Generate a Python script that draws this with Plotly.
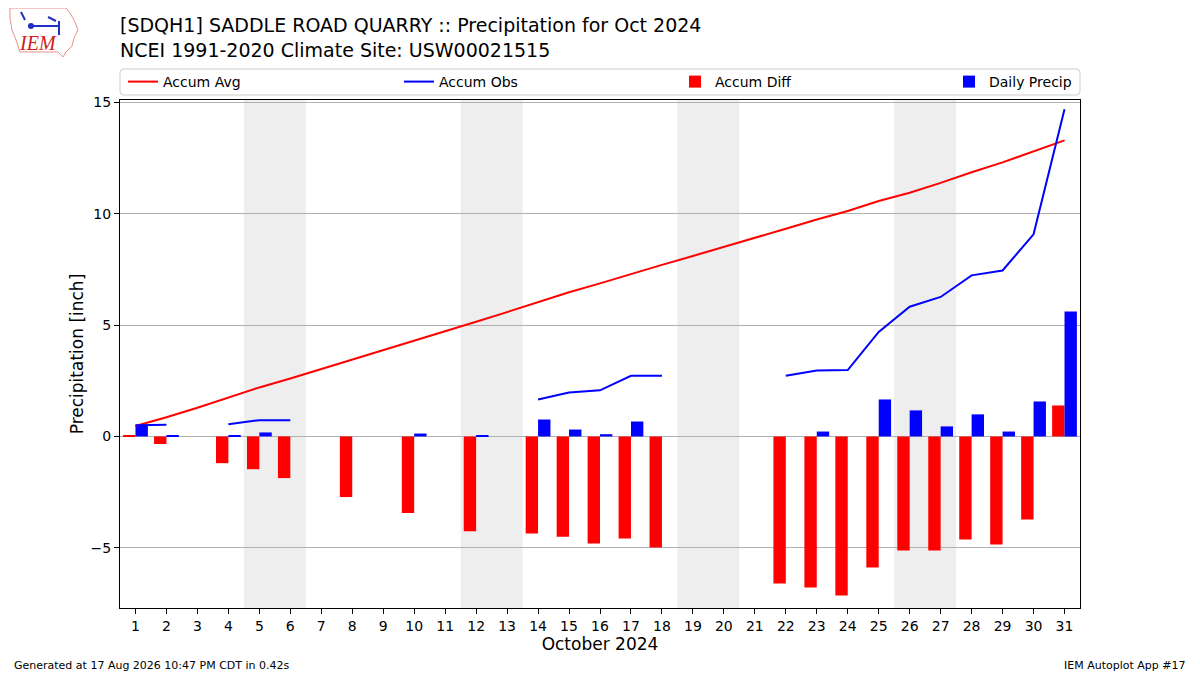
import pandas as pd
import plotly.graph_objects as go

# Daily data for October 2024 (inches), None = missing report
days = list(range(1, 32))
accum_avg = [0.47, 0.86, 1.29, 1.75, 2.20, 2.60, 3.02, 3.45, 3.87, 4.30,
             4.72, 5.15, 5.58, 6.02, 6.47, 6.87, 7.30, 7.70, 8.10, 8.50,
             8.91, 9.32, 9.74, 10.12, 10.57, 10.94, 11.38, 11.86, 12.30, 12.80,
             13.29]
accum_obs = [0.50, 0.52, None, 0.55, 0.73, 0.73, None, 0.73, None, 0.86,
             None, 0.90, None, 1.66, 1.97, 2.07, 2.72, 2.72, None, None,
             None, 2.72, 2.96, 2.98, 4.69, 5.82, 6.26, 7.23, 7.45, 9.07,
             14.68]
daily_precip = [0.50, 0.03, None, 0.03, 0.18, 0.00, None, 0.00, None, 0.13,
                None, 0.04, None, 0.76, 0.31, 0.10, 0.67, 0.00, None, None,
                None, 0.00, 0.22, 0.00, 1.66, 1.17, 0.45, 0.99, 0.22, 1.57,
                5.61]

# Accumulated departure = observed - average
accum_diff = [None if o is None else round(o - a, 2) for o, a in zip(accum_obs, accum_avg)]

# Weekends (Saturday start) for the grey background bands
dates = pd.date_range("2024-10-01", "2024-10-31")
saturdays = [d.day for d in dates if d.dayofweek == 5]

FONT = "DejaVu Sans"
# page body has an 8px margin, so the figure is drawn 8px smaller and offset
W, H = 1192, 667


# helper: screen pixel -> paper coordinates (plot area 120..1080 x 100..608 on screen)
def px(x, y):
    return (x - 120) / 960, (608 - y) / 508


fig = go.Figure()

fig.add_trace(go.Scatter(x=days, y=accum_avg, mode="lines", name="Accum Avg",
                         line=dict(color="red", width=2), legend="legend"))
fig.add_trace(go.Scatter(x=days, y=accum_obs, mode="lines", name="Accum Obs",
                         line=dict(color="blue", width=2), connectgaps=False,
                         legend="legend2"))
fig.add_trace(go.Bar(x=days, y=accum_diff, name="Accum Diff", marker_color="red",
                     marker_line_width=0, width=0.4, offset=-0.4, legend="legend3"))
fig.add_trace(go.Bar(x=days, y=daily_precip, name="Daily Precip", marker_color="blue",
                     marker_line_width=0, width=0.4, offset=0, legend="legend4"))

# Weekend shading
for d in saturdays:
    fig.add_vrect(x0=d - 0.5, x1=min(d + 1.5, 31.5), fillcolor="#eeeeee",
                  line_width=0, layer="below")

# legend frame (rounded box spanning the plot width)
bx0, by0 = px(120, 95)
bx1, by1 = px(1080, 69)
rx, ry = 4 / 960, 4 / 508
frame = ("M %f,%f L %f,%f Q %f,%f %f,%f L %f,%f Q %f,%f %f,%f L %f,%f Q %f,%f %f,%f "
         "L %f,%f Q %f,%f %f,%f Z") % (
    bx0 + rx, by0, bx1 - rx, by0, bx1, by0, bx1, by0 + ry,
    bx1, by1 - ry, bx1, by1, bx1 - rx, by1,
    bx0 + rx, by1, bx0, by1, bx0, by1 - ry,
    bx0, by0 + ry, bx0, by0, bx0 + rx, by0)
fig.add_shape(type="path", path=frame, xref="paper", yref="paper",
              line=dict(color="#cccccc", width=1), fillcolor="white", layer="above")

# IEM logo (rough sketch)
outline = [(10, 8), (66, 8), (70, 13), (74, 20), (78, 30), (74, 38), (72, 46),
           (66, 52), (63, 57), (58, 52), (20, 52), (16, 40), (12, 30), (10, 18)]
path = "M " + " L ".join("%.4f,%.4f" % px(a, b) for a, b in outline) + " Z"
fig.add_shape(type="path", path=path, xref="paper", yref="paper",
              line=dict(color="#e89090", width=1))
for (a0, b0, a1, b1) in [(28, 26, 60, 26), (59, 21, 59, 35), (21, 12, 25, 20),
                         (48, 17, 56, 21)]:
    x0, y0 = px(a0, b0)
    x1, y1 = px(a1, b1)
    fig.add_shape(type="line", x0=x0, y0=y0, x1=x1, y1=y1, xref="paper", yref="paper",
                  line=dict(color="#2030c0", width=2))
cx, cy = px(31, 26)
fig.add_shape(type="circle", x0=cx - 3 / 960, x1=cx + 3 / 960, y0=cy - 3 / 508,
              y1=cy + 3 / 508, xref="paper", yref="paper", fillcolor="#2030c0",
              line_width=0)
lx, ly = px(38, 43)
fig.add_annotation(x=lx, y=ly, xref="paper", yref="paper", text="<i>IEM</i>",
                   showarrow=False, xanchor="center", yanchor="middle",
                   font=dict(family="Liberation Serif", size=20, color="#d02020"))

# Footer
fx, fy = px(12, 665)
fig.add_annotation(x=fx, y=fy, xref="paper", yref="paper", xanchor="left", yanchor="middle",
                   text="Generated at 17 Aug 2026 10:47 PM CDT in 0.42s", showarrow=False,
                   font=dict(family=FONT, size=11, color="black"))
fx, fy = px(1188, 665)
fig.add_annotation(x=fx, y=fy, xref="paper", yref="paper", xanchor="right", yanchor="middle",
                   text="IEM Autoplot App #17", showarrow=False,
                   font=dict(family=FONT, size=11, color="black"))

legend_style = dict(orientation="h", xanchor="left", yanchor="middle",
                    bgcolor="rgba(0,0,0,0)", borderwidth=0, font=dict(size=14),
                    itemwidth=30)
lg_y = px(0, 82)[1]

fig.update_layout(
    width=W, height=H,
    margin=dict(l=112, r=120, t=92, b=67),
    paper_bgcolor="white", plot_bgcolor="white",
    font=dict(family=FONT, size=14, color="black"),
    barmode="overlay",
    title=dict(text="[SDQH1] SADDLE ROAD QUARRY :: Precipitation for Oct 2024<br>"
                    "NCEI 1991-2020 Climate Site: USW00021515",
               x=(120 - 8) / W, xanchor="left", y=1 - (32 - 8) / H, yanchor="middle",
               font=dict(family=FONT, size=19)),
    legend=dict(x=px(123, 0)[0], y=lg_y, **legend_style),
    legend2=dict(x=px(399, 0)[0], y=lg_y, **legend_style),
    legend3=dict(x=px(675, 0)[0], y=lg_y, **legend_style),
    legend4=dict(x=px(949, 0)[0], y=lg_y, **legend_style),
    showlegend=True,
)

fig.update_xaxes(range=[0.5, 31.5], tickmode="array", tickvals=days,
                 ticktext=[str(d) for d in days], tickfont=dict(size=14),
                 title=dict(text="October 2024", font=dict(size=17), standoff=5),
                 showline=True, linecolor="black", linewidth=1, mirror=True,
                 ticks="outside", ticklen=5, tickcolor="black", showgrid=False,
                 zeroline=False)
fig.update_yaxes(range=[-7.7, 15.1], tickvals=[-5, 0, 5, 10, 15], tickfont=dict(size=14),
                 title=dict(text="Precipitation [inch]", font=dict(size=17), standoff=2),
                 showline=True, linecolor="black", linewidth=1, mirror=True,
                 ticks="outside", ticklen=5, tickcolor="black",
                 showgrid=True, gridcolor="#b0b0b0", gridwidth=1,
                 zeroline=False)

fig.write_html("out.html")
